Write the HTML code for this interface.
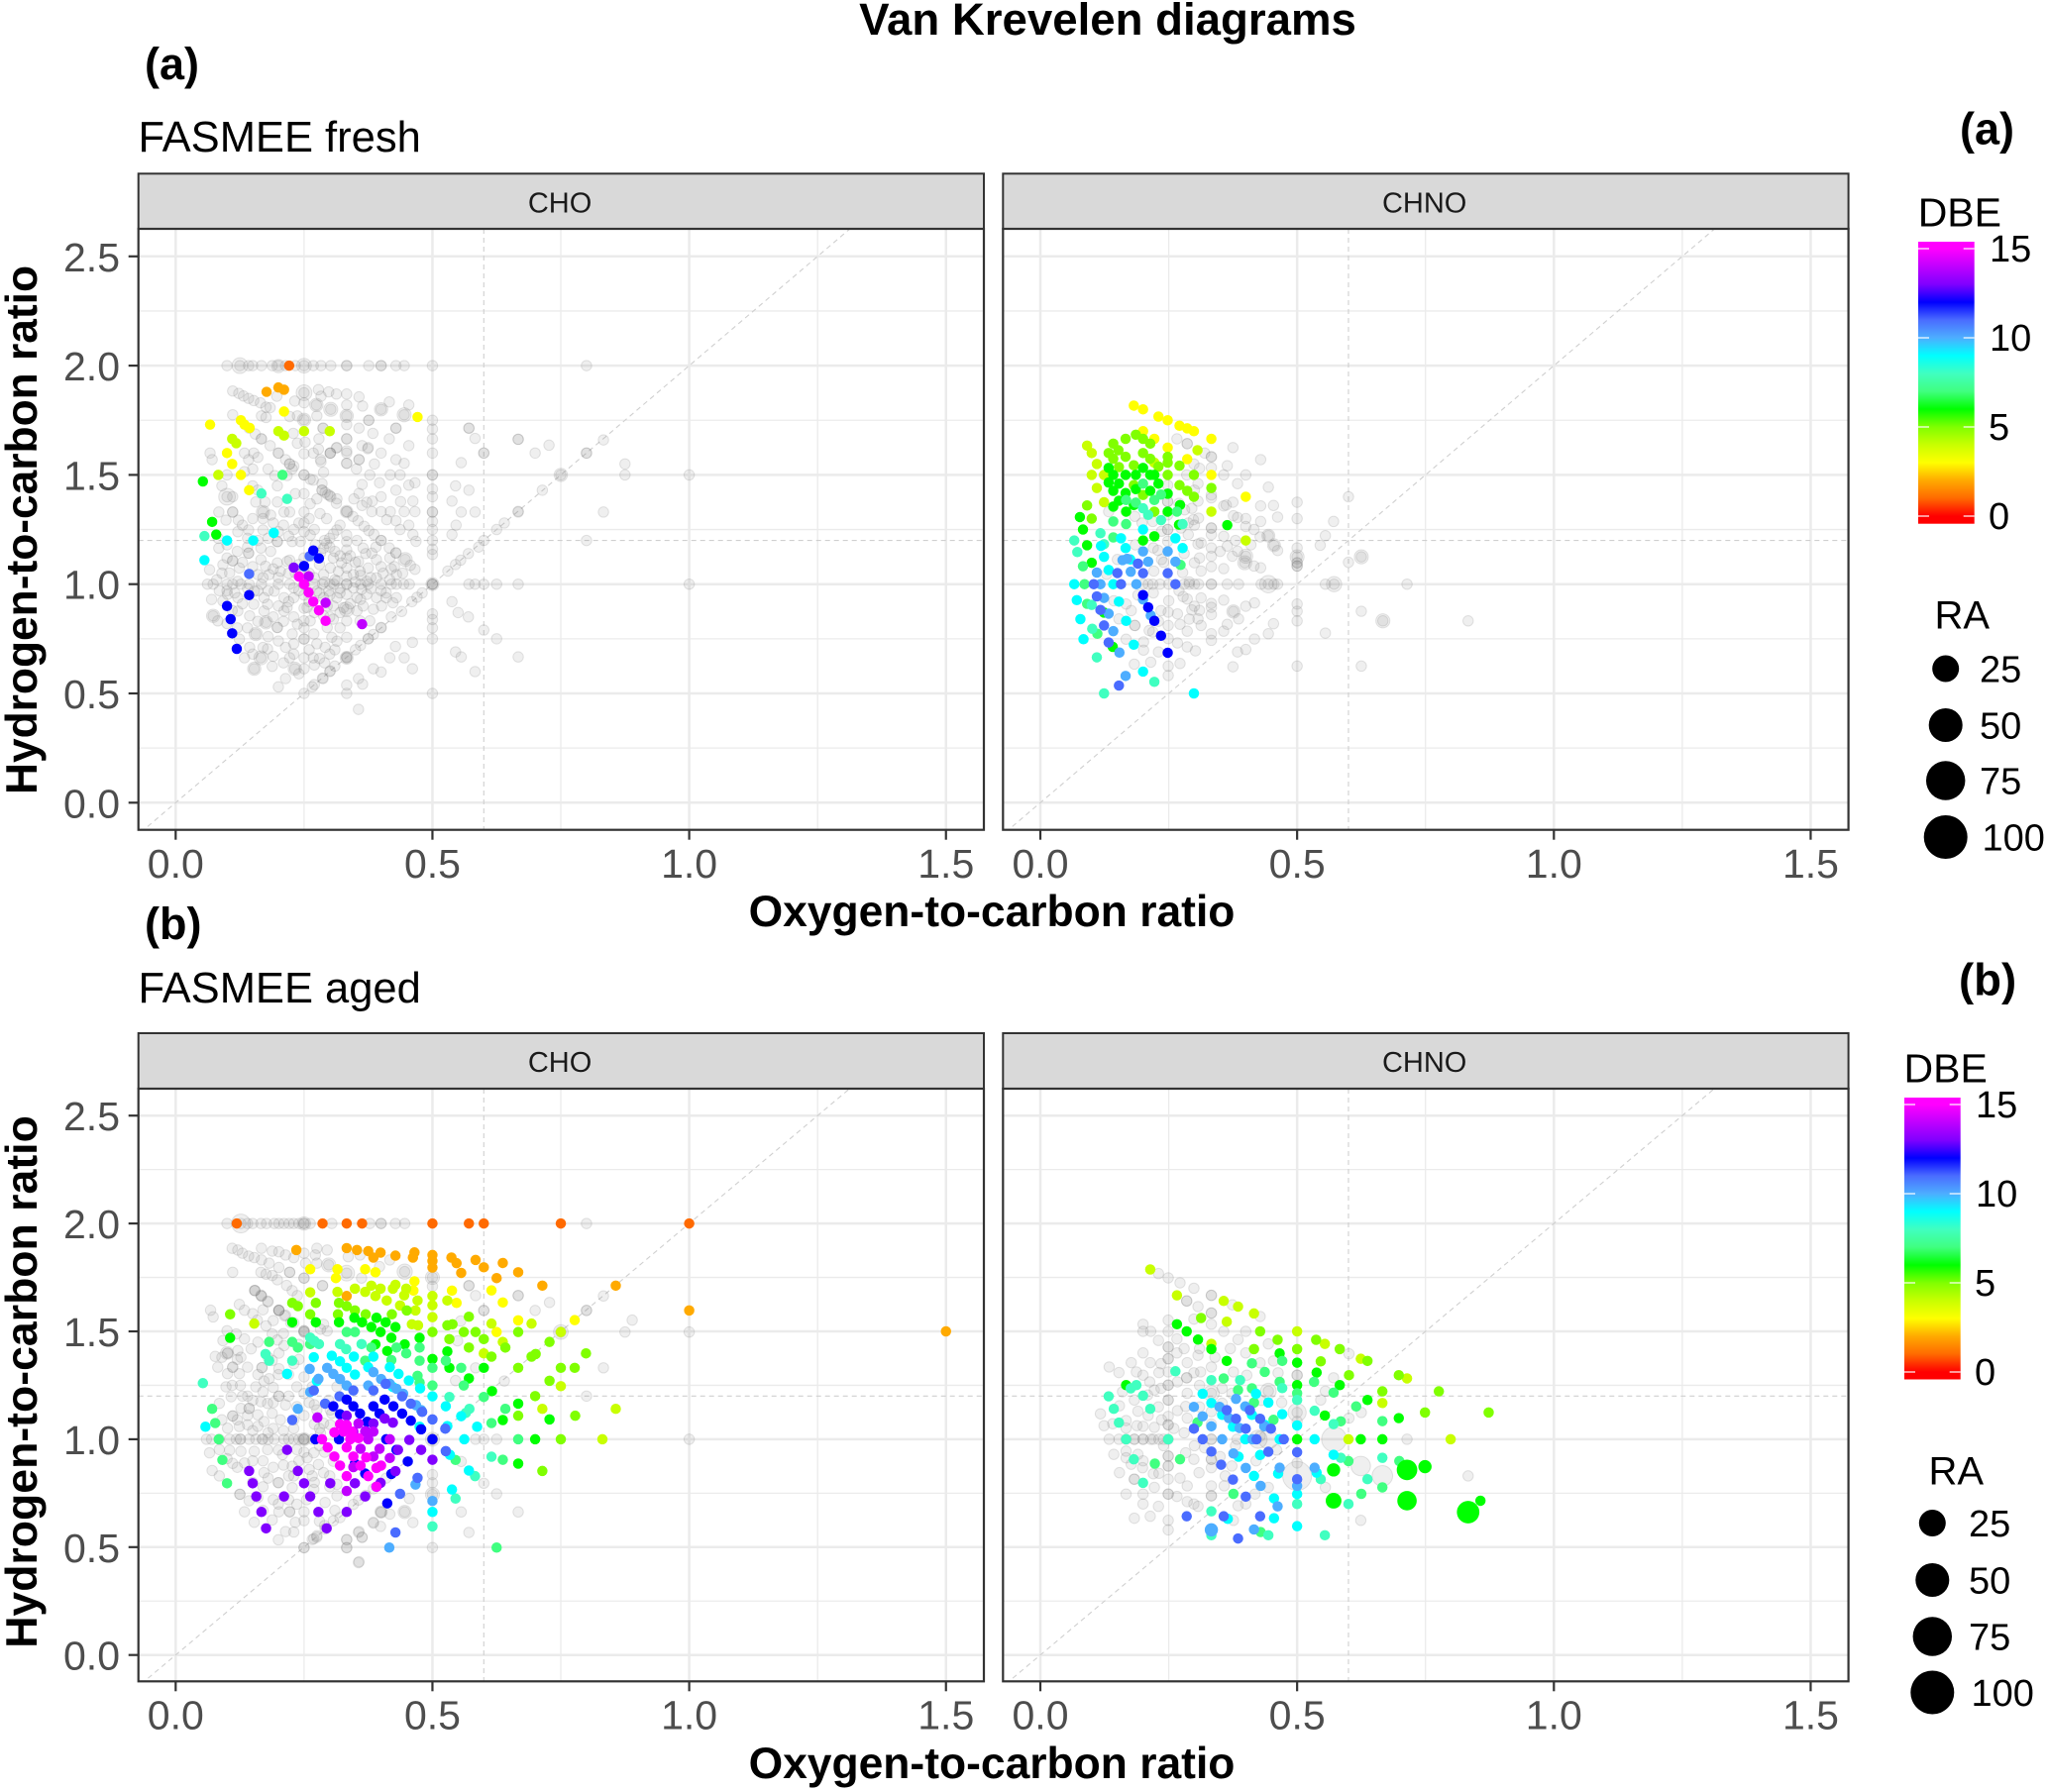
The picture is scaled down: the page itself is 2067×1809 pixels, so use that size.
<!DOCTYPE html>
<html lang="en">
<head>
<meta charset="utf-8">
<title>Van Krevelen diagrams</title>
<style>
html,body{margin:0;padding:0;background:#fff;}
svg{display:block;font-family:"Liberation Sans",Arial,sans-serif;}
</style>
</head>
<body>
<svg id="chart" xmlns="http://www.w3.org/2000/svg" width="2067" height="1809" viewBox="0 0 2067 1809">
  <rect width="2067" height="1809" fill="#fff"/>
  <text x="1118" y="35" font-size="45.6" font-weight="bold" text-anchor="middle" fill="#000">Van Krevelen diagrams</text>
  <text x="146" y="80" font-size="45" font-weight="bold" fill="#000">(a)</text>
  <text x="139.5" y="153" font-size="43.5" fill="#000">FASMEE fresh</text>
  <text x="146" y="948" font-size="45" font-weight="bold" fill="#000">(b)</text>
  <text x="139.5" y="1012" font-size="43.5" fill="#000">FASMEE aged</text>
  <text x="1978" y="145.5" font-size="45" font-weight="bold" fill="#000">(a)</text>
  <text x="1977" y="1004.5" font-size="45.5" font-weight="bold" fill="#000">(b)</text>
  <text transform="rotate(-90 37 535)" x="37" y="535" font-size="44.3" font-weight="bold" text-anchor="middle" fill="#000">Hydrogen-to-carbon ratio</text>
  <text transform="rotate(-90 37 1395)" x="37" y="1395" font-size="44.6" font-weight="bold" text-anchor="middle" fill="#000">Hydrogen-to-carbon ratio</text>
  <text x="1001" y="935" font-size="44.4" font-weight="bold" text-anchor="middle" fill="#000">Oxygen-to-carbon ratio</text>
  <text x="1001" y="1795" font-size="44.4" font-weight="bold" text-anchor="middle" fill="#000">Oxygen-to-carbon ratio</text>
  <g id="panels"></g>
  <g id="legends"></g>
</svg>
<script>
// ---------- axis values ----------
const xMajorTicks = [0, 0.5, 1, 1.5];
const xMinorTicks = [0.25, 0.75, 1.25];
const yMajorTicks = [0, 0.5, 1, 1.5, 2, 2.5];
const yMinorTicks = [0.25, 0.75, 1.25, 1.75, 2.25];
const xTickLabels = ["0.0", "0.5", "1.0", "1.5"];
const yTickLabels = ["0.0", "0.5", "1.0", "1.5", "2.0", "2.5"];
const referenceX = [0.6];
const referenceY = [1.2];
const referenceSlope = [2];

// ---------- colour scale ----------
const dbeLevels = [0,1,2,3,4,5,6,7,8,9,10,11,12,13,14,15];
const dbeColors = ["#ff0000","#ff6a00","#ffaa00","#ffff00","#c8ff00","#80ff00","#00ff00","#40ff80","#40ffc0","#00ffff","#4dadff","#4a6cff","#0000ff","#8000ff","#c000ff","#ff00ff"];
const dbeLegendTicks = [0,5,10,15];
const raLegendValues = [25,50,75,100];

// ---------- FASMEE fresh, CHO : flat [oc,hc,...] ----------
const freshChoGray = [
.1,2,.125,2,.142,2,.15,2,.167,2,.188,2,.2,2,.214,2,.233,2,.25,2,.268,2,.283,2,.302,2,.333,2,.376,2,.4,2,.429,2,.445,2,.5,2,.8,2,
.111,1.884,.123,1.873,.132,1.861,.142,1.85,.152,1.84,.165,1.83,.176,1.81,.197,1.86,.232,1.838,.25,1.83,.25,1.876,.278,1.89,.298,1.88,.313,1.87,.283,1.86,.274,1.82,.302,1.8,.333,1.87,.357,1.857,.333,1.82,.364,1.815,.416,1.834,.454,1.82,.4,1.8,.445,1.775,.333,1.77,.376,1.75,.357,1.714,.333,1.73,.384,1.69,.429,1.714,.416,1.665,.333,1.665,.363,1.634,.374,1.62,.313,1.624,.279,1.665,.287,1.714,.301,1.6,.283,1.56,.333,1.6,.333,1.553,.357,1.57,.4,1.6,.454,1.634,.429,1.57,.445,1.553,.387,1.55,
.378,1.5,.418,1.5,.437,1.5,.466,1.464,.454,1.453,.397,1.464,.363,1.456,.357,1.415,.4,1.4,.429,1.43,.347,1.39,.383,1.38,.372,1.375,.363,1.36,.382,1.332,.4,1.332,.418,1.332,.445,1.332,.466,1.332,.438,1.378,.462,1.38,.411,1.295,.429,1.29,.437,1.25,.454,1.27,.462,1.227,.468,1.196,
.25,1.752,.275,1.77,.237,1.77,.222,1.767,.184,1.808,.167,1.77,.176,1.763,.111,1.775,.237,1.645,.252,1.65,.229,1.69,.25,1.597,.268,1.6,
.143,1.714,.155,1.687,.167,1.665,.184,1.634,.2,1.6,.222,1.55,.25,1.5,.268,1.476,.285,1.43,.302,1.4,.313,1.37,.333,1.332,.355,1.29,.367,1.265,.376,1.245,.4,1.2,.416,1.166,.429,1.143,.447,1.113,.466,1.068,.214,1.57,.23,1.54,.296,1.41,.345,1.31,.386,1.228,.457,1.086,
.48,.96,.47,.94,.46,.92,.44,.875,.42,.85,.4,.8,.385,.77,.375,.75,.36,.72,.35,.7,.333,.667,.31,.625,.3,.6,.286,.57,.27,.54,.25,.5,
.53,1.06,.545,1.09,.555,1.11,.57,1.14,.59,1.17,.6,1.2,.625,1.25,.64,1.28,.667,1.333,.714,1.43,.75,1.5,1,1.5,.667,1.663,.6,1.6,.833,1.66,.8,1.6,.7,1.6,.727,1.636,.571,1.714,.583,1.667,.556,1.556,.545,1.45,.571,1.43,.538,1.38,.556,1.33,.583,1.33,.667,1.33,.833,1.33,.875,1.55,.875,1.5,.546,1.27,.538,1.227,.8,1.2,
.5,1.75,.5,1.71,.5,1.665,.5,1.6,.5,1.5,.5,1.435,.5,1.4,.5,1.33,.5,1.287,.5,1.25,.5,1.2,.5,1.16,.5,1.136,.5,1,.5,.864,.5,.838,.5,.8,.5,.75,.5,.5,
.062,1,.073,1,.1,1,.111,1,.127,1,.143,1,.167,1,.2,1,.222,1,.25,1,.27,1,.286,1,.3,1,.308,1,.333,1,.36,1,.375,1,.4,1,.42,1,.43,1,.444,1,.455,1,.571,1,.583,1,.6,1,.625,1,.667,1,1,1,
.538,.92,.55,.87,.57,.85,.6,.79,.625,.75,.556,.667,.667,.667,.583,.6,.545,.69,
.067,1.6,.071,1.57,.1,1.4,.111,1.4,.09,1.45,.1,1.5,.134,1.6,.142,1.57,.152,1.6,.16,1.58,.18,1.527,.15,1.527,.134,1.515,.15,1.45,.156,1.376,.17,1.33,.111,1.33,.084,1.33,.098,1.293,.122,1.293,.142,1.248,.17,1.248,.185,1.316,.198,1.376,.211,1.33,.222,1.33,.25,1.33,.25,1.414,.233,1.414,.262,1.368,.281,1.323,.294,1.3,
.32,1.27,.314,1.248,.307,1.23,.3,1.21,.294,1.187,.288,1.165,.282,1.142,
.333,1.225,.333,1.195,.333,1.157,.333,1.12,.333,1.074,.333,1.036,.333,.953,.333,.885,.333,.832,.333,.757,.333,.663,.333,.538,.333,.5,
.353,1.2,.365,1.165,.382,1.142,.391,1.112,.417,1.12,.426,1.08,.442,1.05,.43,1.044,.404,1.05,.375,1.074,.356,1.104,.372,1.013,.391,1.029,.417,1.02,
.353,.938,.372,.953,.391,.938,.41,.938,.43,.938,.423,.915,.401,.9,.385,.885,.365,.9,.353,.878,.378,.832,.4,.802,.359,.832,
.07,.93,.082,.832,.073,.855,.092,.923,.124,.749,.144,.711,.166,.663,.153,.613,.134,.663,.156,.772,.176,.825,.144,.855,.121,.877,.152,.908,.172,.938,.172,.877,.198,.802,.25,.749,.227,.772,.237,.817,.211,.877,.23,.938,.217,.893,.25,.832,.269,.772,.275,.727,.291,.711,.304,.757,.314,.739,.295,.802,.288,.855,.307,.84,
.214,.711,.23,.727,.179,.704,.188,.624,.214,.568,.232,.613,.24,.59,.222,.663,.25,.663,.268,.663,.25,.613,.2,.53,.266,.53,.287,.568,.301,.603,.356,.568,.364,.542,.385,.613,.4,.598,.417,.663,.428,.715,.445,.663,.461,.734,.461,.613,.356,.427,
.174,1.376,.16,1.43,.193,1.497,.217,1.497,.227,1.527,.198,1.45,.275,1.39,.291,1.42,.285,1.46,.3,1.406,.314,1.39,.262,1.48,.288,1.512,.278,1.618,.301,1.6,.282,1.57,.314,1.625,.352,1.527,.333,1.61,.357,1.57,.375,1.625,
.084,1.165,.111,1.107,.092,1.089,.066,1.066,.142,1.142,.166,1.165,.166,1.112,.198,1.195,.124,1.074,.105,1.051,.121,1.013,.185,1.15,.175,1.082,.198,1.097,.217,1.104,.227,1.195,.25,1.24,.243,1.195,.262,1.225,.182,1.044,.204,1.059,.233,1.051,.16,1.044,.083,1.21,.121,1.24,.14,1.21,.1,1.18,
.101,.953,.121,.938,.153,.968,.192,.968,.211,.938,.23,.983,.179,.908,.256,.893,.262,.832,.298,.968,.314,.938,.307,.9,.327,.893,.288,.938,.275,.968,.314,1.014,.301,1.074,.288,1.044,.307,1.12,.323,1.097,.317,1.059,.346,1.044,.359,1.059,.346,.983,.362,.976,.295,.9,.32,.96,.25,1.12,.25,.95,.25,1.06,.25,.89,.222,1.11,.272,1.18,.267,1.13,.28,1.09,.35,1.01,.29,1.01,
.29,1.2,.3,1.17,.31,1.15,.32,1.13,.25,1.28,.23,1.25,.21,1.27,.19,1.28,.17,1.3,.15,1.3,.13,1.27,.27,1.25,.26,1.3,.24,1.28,.22,1.22,.2,1.24,.18,1.21,.16,1.2,.14,1.17,.12,1.15,.1,1.12,.09,1.05,.08,1.02,.085,.97,.1,.97,.115,.96,.13,.91,.11,.88,.1,.82,.12,.8,.14,.8,.16,.83,.19,.85,.2,.9,.22,.92,.24,.97,.26,.92,.27,.87,.25,.8,.23,.85,.21,.83,.2,.74,.18,.76,.17,.71,.15,.68,.19,.67,.21,.64,.23,.68,.26,.7,.27,.63,.28,.66,.3,.68,.31,.7,.29,.64,.32,.8,.3,.85,.32,.87,.34,.91,.36,.93,.38,.98,.4,.97,.41,.96,.36,1.04,.38,1.03,.4,1.08,.42,1.07,.35,1.1,.37,1.14,.39,1.17,.34,1.13,.31,1.02,.32,.98,.3,.95,.28,.96,.27,1.03,.26,1.05,.24,1.09,.22,1.05,.2,1.03,.19,1.07,.17,1.03,.15,1.08,.13,1.1,.14,.98,.16,.97,.18,.97
];
const freshChoGrayOverlap = [.333,1.332,.25,1.5,.2,1.6,.167,1.665,.222,1.55,.285,1.43,.429,1.143,.4,1.2,.376,1.75,.429,1.714,.333,1.665,.333,1.553,.287,1.714,.301,1.6,.5,1.5,.5,1,.5,1,.333,.663,.375,.75,.25,.749,.198,.802,.111,1.33,.111,1.107,.142,1.142,.198,1.195,.25,1,.333,1,.4,2,.333,2,.6,1.6,.667,1.663,.571,1.714,.8,1.6,.5,1.33];
const freshChoGrayLarge = [.125,2,3,.25,2,2,.2,1.998,1,.25,1.876,3,.274,1.82,1,.302,1.8,1.5,.4,1.8,1,.445,1.775,1.5,.333,1.77,1,.25,1.752,1,.1,1.4,4,.17,1.33,1,.447,1.113,1.5,.333,1.332,.6,.75,1.5,1,.5,1,.8,.333,.885,2,.166,.663,1.5,.153,.613,1,.232,.613,1,.156,.772,1,.176,.825,1,.073,.855,1,.333,.663,.8];
const freshChoColored = [
.221,2,1,
.177,1.88,2,.2,1.9,2,.211,1.89,2,
.211,1.79,3,.471,1.765,3,.067,1.73,3,.127,1.75,3,.134,1.73,3,.144,1.715,3,.1,1.6,3,.11,1.55,3,.127,1.5,3,.143,1.43,3,
.2,1.7,4,.211,1.68,4,.25,1.7,4,.3,1.7,4,.11,1.665,4,.118,1.645,4,.083,1.5,4,
.053,1.47,6,.071,1.285,6,.079,1.227,6,
.208,1.5,7,
.167,1.415,8,.217,1.39,8,.056,1.22,8,
.1,1.2,9,.151,1.2,9,.191,1.235,9,.056,1.11,9,
.143,1.047,11,.261,1.128,11,
.268,1.154,12,.279,1.118,12,.25,1.083,12,.143,.95,12,.1,.9,12,.107,.84,12,.11,.775,12,.119,.704,12,
.23,1.076,13,
.259,1.036,14,.292,.915,14,.363,.817,14,
.24,1.035,15,.25,1,15,.259,.962,15,.268,.92,15,.279,.88,15,.292,.832,15
];

// ---------- FASMEE fresh, CHNO ----------
const freshChnoGray = [
.266,1.665,.286,1.643,.299,1.55,.333,1.583,.333,1.533,.375,1.625,.429,1.57,.364,1.542,.357,1.5,.4,1.5,.285,1.5,.307,1.46,.384,1.46,.444,1.444,.333,1.408,.333,1.395,.375,1.375,.357,1.358,.362,1.362,.429,1.358,.454,1.36,.5,1.375,.6,1.4,.462,1.307,.5,1.3,.571,1.287,.376,1.313,.384,1.305,.4,1.3,.429,1.287,.4,1.264,.416,1.25,.428,1.216,.444,1.222,.455,1.178,.462,1.154,.555,1.222,.545,1.178,.5,1.166,.5,1.125,.5,1.098,.5,1.083,.6,1.1,.625,1.125,
.2,1,.21,1,.219,1,.233,1,.25,1,.28,1,.29,1,.3,1,.308,1,.333,1,.364,1,.386,1,.43,1,.444,1,.455,1,.462,1,.555,1,.572,1,.714,1,
.25,.924,.278,.943,.286,.932,.313,.937,.3,.899,.295,.882,.333,.912,.333,.894,.333,.861,.357,.927,.4,.899,.417,.914,.376,.875,.386,.841,.364,.816,.357,.785,.333,.773,.333,.743,.313,.811,.307,.841,.286,.785,.272,.816,.267,.864,.249,.872,.249,.811,.235,.879,.249,.751,.267,.731,.286,.713,.302,.695,.23,.69,.272,.637,.249,.625,.249,.582,.215,.643,.183,.634,.384,.69,.4,.701,.375,.622,.417,.749,.444,.773,.454,.819,.5,.909,.5,.876,.5,.832,.5,.625,.555,.776,.625,.876,.667,.832,.833,.832,.625,.625,
.185,1.18,.22,1.166,.248,1.196,.248,1.25,.248,1.317,.248,1.378,.248,1.453,.229,1.155,.236,1.113,.221,1.06,.288,1.227,.307,1.184,.313,1.189,.3,1.098,.313,1.06,.357,1.071,.333,1.128,.333,1.08,.333,1.166,.333,1.227,.333,1.257,.357,1.219,.364,1.174,.374,1.128,.384,1.151,.4,1.128,.398,1.098,.416,1.083,.429,1.075,.308,1.302,.298,1.295,.288,1.28,.274,1.257,.236,1.242,.219,1.287,.184,1.31,.198,1.28,.295,1.347,.281,1.34,.307,1.38,.133,1.332,.129,1.045,.15,1.113,.277,1.053,.167,.909,.177,.879,.184,.811,.143,.924,.153,.841,.201,.736,.201,.698,.167,.748,.219,.781,.212,.788,
.24,1.1,.28,1.14,.31,1.12,.29,1.01,.27,.97,.22,.96,.19,.95,.23,.83,.29,.84,.31,.88,.35,1.15,.38,1.2,.41,1.18,.3,1.27,.27,1.37,.3,1.43,.32,1.6,.31,1.53
];
const freshChnoGrayOverlap = [.286,1.643,.333,1.583,.333,1,.248,1.25,.248,1.378,.333,1.257,.184,.811,.5,1.098,.5,1.083];
const freshChnoGrayLarge = [.444,1,5,.572,1,2.5,.4,1.128,1.5,.398,1.098,1.5,.5,1.125,1.5,.625,1.125,1.5,.667,.832,1.5,.376,.875,1,.444,1.222,.8,.455,1.178,.8];
const freshChnoColored = [
.182,1.817,3,.2,1.8,3,.23,1.767,3,.248,1.75,3,.271,1.725,3,.286,1.713,3,.299,1.7,3,.333,1.665,3,.2,1.7,3,.222,1.665,3,.248,1.625,3,.286,1.572,3,.333,1.5,3,.4,1.4,3,
.091,1.634,4,.1,1.6,4,.11,1.55,4,.1,1.5,4,.124,1.5,4,.11,1.44,4,.124,1.375,4,.333,1.332,4,.4,1.2,4,.306,1.613,4,.222,1.556,4,
.091,1.36,5,.1,1.3,5,.166,1.665,5,.186,1.684,5,.2,1.665,5,.214,1.643,5,.142,1.643,5,.152,1.613,5,.133,1.6,5,.142,1.574,5,.166,1.583,5,.2,1.6,5,.214,1.574,5,.182,1.544,5,.153,1.536,5,.23,1.538,5,.248,1.583,5,.248,1.556,5,.271,1.542,5,.299,1.5,5,.248,1.5,5,.271,1.453,5,.286,1.427,5,.299,1.4,5,.333,1.44,5,.222,1.332,5,.182,1.453,5,.2,1.408,5,
.133,1.532,6,.2,1.532,6,.142,1.5,6,.166,1.5,6,.186,1.5,6,.214,1.5,6,.222,1.5,6,.133,1.465,6,.153,1.46,6,.142,1.427,6,.23,1.46,6,.166,1.417,6,.186,1.435,6,.214,1.427,6,.248,1.414,6,.153,1.382,6,.142,1.355,6,.182,1.362,6,.167,1.332,6,.248,1.332,6,.272,1.362,6,.077,1.307,6,.083,1.25,6,.222,1.219,6,.2,1.2,6,.27,1.272,6,.364,1.27,6,.091,1.178,6,.1,1.098,6,.141,.713,6,.124,.87,6,
.142,1.287,7,.083,1.082,7,.273,1.088,7,.2,1.46,7,.235,1.41,7,.222,1.385,7,.167,1.385,7,.186,1.373,7,.142,1.214,7,.266,1.332,7,.167,1.275,7,.111,.773,7,.086,1,7,.091,.91,7,
.2,1.347,8,.21,1.317,8,.235,1.293,8,.277,1.275,8,.117,1.233,8,.066,1.2,8,.072,1.147,8,.124,1.183,8,.101,.796,8,.124,.5,8,.222,.553,8,.11,.665,8,.1,.905,8,
.2,1.25,9,.157,1.21,9,.166,1.165,9,.118,1.175,9,.124,1.125,9,.263,1.21,9,.277,1.165,9,.133,1.065,9,.066,1,9,.142,1,9,.071,.927,9,.153,.92,9,.078,.84,9,.167,.832,9,.084,.748,9,.182,.723,9,.2,.6,9,.299,.5,9,.175,1.113,9,
.2,1.15,10,.248,1.15,10,.16,1.11,10,.169,1.116,10,.263,1.103,10,.21,1.103,10,.11,1.053,10,.176,1.057,10,.117,1,10,.187,1,10,.124,.937,10,.2,.93,10,.133,.865,10,.142,.785,10,.215,.857,10,.154,.687,10,.166,.58,10,
.19,1.094,11,.15,1.051,11,.2,1.05,11,.248,1.05,11,.104,1,11,.157,1,11,.263,1,11,.11,.944,11,.117,.882,11,.124,.811,11,.133,.733,11,.153,.536,11,
.2,.95,12,.21,.894,12,.222,.832,12,.235,.764,12,.248,.686,12
];

// ---------- FASMEE aged, CHO ----------
const agedChoGray = [
.1,2,.127,2,.14,2,.15,2,.166,2,.177,2,.192,2,.201,2,.211,2,.221,2,.23,2,.24,2,.25,2,.262,2,.304,2,.378,2,.4,2,.428,2,.446,2,.8,2,
.11,1.885,.121,1.877,.13,1.862,.142,1.849,.153,1.842,.167,1.885,.188,1.872,.201,1.869,.214,1.854,.167,1.831,.182,1.816,.201,1.796,.23,1.842,.25,1.862,.275,1.885,.295,1.877,.272,1.854,.253,1.816,.275,1.816,.298,1.808,.333,1.77,.111,1.774,.166,1.774,.176,1.765,.188,1.759,.198,1.739,.222,1.774,.25,1.747,.286,1.712,.216,1.713,.227,1.689,.237,1.666,.154,1.689,.167,1.664,.18,1.637,.201,1.597,.214,1.575,.23,1.54,.25,1.497,.362,1.747,.336,1.846,.359,1.854,.397,1.8,.417,1.831,.446,1.777,.5,1.75,.5,1.709,.571,1.712,.584,1.666,.667,1.666,.728,1.634,.6,1.597,.7,1.597,.555,1.548,.75,1.497,.875,1.497,.889,1.552,.8,1.597,.833,1.664,1,1.497,.64,1.27,.833,1.331,.8,1.2,1,1,.584,1.331,.545,1.272,.625,1,.6,1,.584,1,.556,.897,.6,.796,.625,.747,.667,.663,.571,.568,.556,.663,.5,.744,.5,.836,.5,.798,.5,.498,.446,.663,.462,.614,.455,.725,.4,.663,.385,.611,.399,.596,.356,.568,.363,.545,.333,.535,.333,.498,.356,.428,.25,.498,
.266,.535,.275,.553,.291,.584,.307,.622,.32,.637,.346,.698,.356,.718,.37,.74,.385,.77,.41,.82,
.06,1,.07,1,.105,1,.126,1,.143,1,.169,1,.192,1,.211,1,.23,1,.25,1,.266,1,.085,1,.118,1,.156,1,.18,1,.22,1,.24,1,
.154,1.69,.166,1.668,.179,1.64,.201,1.598,.212,1.572,.224,1.541,.25,1.503,.124,1.625,.134,1.598,.15,1.582,.159,1.552,.176,1.526,.188,1.488,.198,1.46,.211,1.434,.068,1.598,.073,1.567,.1,1.503,.118,1.488,.134,1.465,.101,1.399,.121,1.411,.092,1.457,.077,1.384,.082,1.334,.111,1.334,.127,1.38,.14,1.334,.168,1.332,.201,1.399,.188,1.365,.147,1.419,.201,1.327,.124,1.304,.101,1.304,.126,1.25,.098,1.243,.085,1.166,.108,1.197,.143,1.143,.111,1.108,.127,1.143,.156,1.243,.172,1.27,.182,1.281,.166,1.174,.179,1.166,.201,1.2,.16,1.113,.188,1.12,.214,1.159,.236,1.243,.25,1.289,.266,1.243,.25,1.212,.236,1.151,.204,1.09,.101,1.051,.124,1.059,.14,1.067,.172,1.082,.298,1.181,.304,1.12,.288,1.074,
.066,.937,.085,.952,.105,.949,.111,.888,.071,.855,.085,.83,.127,.944,.153,.944,.179,.952,.208,.929,.134,.89,.172,.845,.2,.799,.125,.745,.143,.715,.134,.664,.153,.615,.188,.626,.201,.664,.222,.664,.236,.699,.214,.572,.2,.534,.233,.615,.25,.664,.25,.623,.269,.539,.275,.546,.25,.497,.333,.534,.333,.497,.357,.572,.363,.546,.385,.615,.4,.661,.417,.653,.357,.432,.227,.776,.256,.914,.269,.937,.278,.883,.288,.845,.266,.83,.269,.768,.227,.875,.236,.952,.307,.898,.314,.791,.314,.738,.291,.707,
.301,1.136,.314,1.243,.275,1.136,.301,1.067,.282,1.028,.295,1.502,.288,1.533,.282,1.51,.549,1.456,.14,1.2,.16,1.3,.12,1.37,.22,1.3,.24,1.37,.19,1.24,.15,1.04,.18,1.03,.23,1.09,.26,1.17,.2,.95,.17,.78,.19,.72,.22,.83,.24,.9,.28,.97,.27,1.07,.29,.94,.3,.83,.27,.8,.3,.78,.255,.72,
.09,1.38,.11,1.25,.13,1.2,.15,1.18,.17,1.22,.19,1.17,.12,1.09,.14,1.11,.16,1.06,.19,1.05,.21,1.04,.23,1.05,.09,1.09,.1,.91,.12,.87,.15,.9,.17,.9,.19,.87,.21,.88,.23,.83,.15,.8,.18,.82,.2,.7,.17,.67,.16,.73,.22,.72,.23,.57,.28,.62,.29,.6,.31,.67,.26,.86,.25,.94,.28,1.05,.27,1.16,.25,1.11,.22,1.2,.2,1.3,.18,1.38,.16,1.45,.21,1.49,.19,1.55,.17,1.6,.24,1.44,.23,1.35
];
const agedChoGrayOverlap = [.201,1.598,.25,1.503,.222,1.774,.25,1.747,.286,1.712,.154,1.689,.167,1.664,.201,1.597,.25,1.497,.25,1,.25,1,.201,1.2,.101,1.399,.111,1.334,.168,1.332,.143,1.143,.111,1.108,.126,1,.169,1,.2,.799,.125,.745,.222,.664,.4,2,.25,2,.667,1.666,.6,1.597,.8,1.597,.571,1.712,.5,1,.5,1];
const agedChoGrayLarge = [.127,2,7,.25,2,1,.298,1.808,1.5,.333,1.77,3,.446,1.777,2.5,.5,1.75,1.5,.75,1.497,2,.25,1,.8,.5,1,1.5,.5,.744,1.5,.446,.663,1,.4,.663,.5,.1,1.4,.8];
const agedChoColored = [
.119,2,1,.286,2,1,.333,2,1,.363,2,1,.5,2,1,.571,2,1,.6,2,1,.75,2,1,1,2,1,
1,1.597,2,1.5,1.5,2,.235,1.877,2,.333,1.886,2,.353,1.877,2,.375,1.872,2,.385,1.842,2,.399,1.865,2,.428,1.851,2,.465,1.866,2,.462,1.842,2,.5,1.854,2,.5,1.826,2,.5,1.796,2,.537,1.842,2,.547,1.816,2,.556,1.771,2,.584,1.831,2,.6,1.797,2,.637,1.817,2,.625,1.747,2,.667,1.774,2,.714,1.712,2,.857,1.712,2,.333,1.664,2,
.262,1.788,3,.315,1.788,3,.369,1.788,3,.389,1.774,3,.312,1.747,3,.465,1.732,3,.463,1.689,3,.538,1.689,3,.547,1.632,3,.615,1.69,3,.637,1.634,3,.667,1.551,3,.625,1.497,3,.777,1.552,3,
.262,1.681,4,.315,1.683,4,.349,1.698,4,.369,1.683,4,.381,1.712,4,.399,1.698,4,.389,1.664,4,.411,1.643,4,.423,1.698,4,.428,1.716,4,.449,1.698,4,.445,1.667,4,.437,1.62,4,.467,1.597,4,.471,1.643,4,.5,1.664,4,.5,1.621,4,.5,1.566,4,.46,1.533,4,.472,1.528,4,.153,1.536,4,.529,1.643,4,.693,1.536,4,.75,1.497,4,.615,1.536,4,.637,1.451,4,.6,1.398,4,.857,1.141,4,.831,1,4,.75,1.246,4,.714,1.141,4,
.106,1.579,5,.227,1.632,5,.238,1.617,5,.273,1.632,5,.262,1.579,5,.318,1.632,5,.333,1.617,5,.316,1.579,5,.349,1.597,5,.37,1.579,5,.421,1.579,5,.45,1.597,5,.5,1.497,5,.529,1.528,5,.539,1.533,5,.561,1.497,5,.571,1.568,5,.584,1.497,5,.571,1.425,5,.533,1.464,5,.6,1.464,5,.615,1.383,5,.642,1.425,5,.667,1.497,5,.728,1.451,5,.701,1.395,5,.693,1.383,5,.667,1.331,5,.75,1.331,5,.777,1.331,5,.799,1.398,5,.728,1.271,5,.7,1.2,5,.778,1.109,5,.667,1.109,5,.75,1,5,.714,.853,5,
.227,1.542,6,.273,1.542,6,.106,1.47,6,.318,1.542,6,.348,1.563,6,.363,1.542,6,.391,1.563,6,.409,1.542,6,.381,1.52,6,.428,1.52,6,.399,1.497,6,.475,1.47,6,.389,1.44,6,.412,1.409,6,.446,1.44,6,.5,1.372,6,.533,1.331,6,.6,1.331,6,.571,1.282,6,.529,1.407,6,.667,1.165,6,.616,1.223,6,.637,1.089,6,.728,1.092,6,.7,1,6,.667,.887,6,.42,1.47,6,
.182,1.451,7,.227,1.451,7,.238,1.425,7,.333,1.497,7,.349,1.497,7,.381,1.425,7,.43,1.425,7,.475,1.425,7,.449,1.398,7,.5,1.331,7,.526,1.364,7,.556,1.331,7,.561,1.249,7,.475,1.364,7,.42,1.367,7,.369,1.364,7,.471,1.294,7,.475,1.263,7,.5,1.249,7,.084,1,7,.071,1.141,7,.077,1.075,7,.091,.904,7,.1,.796,7,.6,1.196,7,.642,1.141,7,.615,1.075,7,.637,.905,7,.667,1,7,.545,.904,7,.625,.498,7,.262,1.441,7,
.053,1.26,8,.175,1.395,8,.182,1.364,8,.227,1.364,8,.262,1.471,8,.27,1.456,8,.279,1.441,8,.32,1.441,8,.332,1.418,8,.362,1.441,8,.533,1.196,8,.572,1.141,8,.565,1.122,8,.615,.919,8,.583,.829,8,.545,.725,8,.5,.596,8,
.058,1.058,9,.217,1.303,9,.269,1.38,9,.304,1.387,9,.32,1.361,9,.333,1.331,9,.347,1.383,9,.349,1.3,9,.385,1.383,9,.375,1.334,9,.417,1.334,9,.434,1.303,9,.454,1.272,9,.476,1.236,9,.5,1.199,9,.526,1.153,9,.556,1.107,9,.587,1.058,9,.562,1,9,.534,.928,9,.571,.855,9,.538,.767,9,.5,.663,9,.275,1.27,9,.423,1.242,9,.475,1.058,9,.529,1.061,9,
.238,1.141,10,.261,1.326,10,.278,1.28,10,.295,1.331,10,.307,1.303,10,.32,1.279,10,.333,1.249,10,.262,1.219,10,.375,1.249,10,.385,1.311,10,.4,1.279,10,.417,1.257,10,.43,1.234,10,.443,1.211,10,.468,1.158,10,.467,.79,10,.5,.714,10,.416,.498,10,.478,1.135,10,
.227,1.089,11,.269,1.226,11,.346,1.226,11,.385,1.226,11,.409,1.257,11,.441,1.199,11,.458,1.165,11,.48,1.127,11,.5,1.092,11,.525,1.049,11,.319,1.199,11,.291,1.165,11,.526,.945,11,.437,.747,11,.428,.568,11,.471,.821,11,
.333,1.184,12,.307,1.153,12,.346,1.153,12,.385,1.153,12,.407,1.184,12,.424,1.153,12,.441,1.119,12,.458,1.086,12,.478,1.046,12,.5,1,12,.272,1,12,.318,1,12,.32,1.116,12,.359,1.119,12,.373,1.081,12,.397,1.119,12,.41,1,12,.43,.951,12,.452,.897,12,.42,.839,12,.369,.841,12,.412,.703,12,.349,.887,12,.391,.78,12,
.217,.951,13,.143,.853,13,.238,.853,13,.15,.796,13,.25,.796,13,.301,.796,13,.157,.735,13,.211,.735,13,.262,.735,13,.167,.663,13,.278,.663,13,.333,.663,13,.176,.587,13,.294,.587,13,.369,.735,13,.349,.796,13,.399,.798,13,.428,.852,13,.455,.997,13,.433,.951,13,.478,.951,13,.5,.905,13,.37,1.038,13,.385,1.073,13,.423,1.077,13,.407,1.096,13,.333,1.109,13,
.276,1.101,14,.385,1.035,14,.417,1,14,.397,.956,14,.36,.956,14,.346,1.035,14,.356,1.073,14,.369,1.035,14,.417,.913,14,.375,1,14,.333,.76,14,.346,.871,14,.385,.92,14,
.32,1.07,15,.333,1.066,15,.309,1.032,15,.327,1.035,15,.343,1.035,15,.356,1.005,15,.285,1,15,.34,1,15,.296,.962,15,.333,.962,15,.309,.92,15,.346,.92,15,.32,.878,15,.36,.878,15,.333,.829,15,.375,.829,15,.391,.867,15,.4,.878,15,.391,.78,15,.371,.916,15
];

// ---------- FASMEE aged, CHNO ----------
const agedChnoGray = [
.23,1.768,.249,1.748,.272,1.725,.299,1.7,.285,1.641,.333,1.667,.307,1.615,.333,1.585,.374,1.623,.428,1.569,.299,1.557,.333,1.533,.249,1.552,.2,1.533,.2,1.5,.215,1.5,.249,1.5,.266,1.465,.23,1.458,.249,1.427,.249,1.373,.357,1.5,.385,1.462,.4,1.5,.444,1.442,.4,1.4,.333,1.335,.307,1.389,.266,1.4,.2,1.4,.214,1.355,.235,1.35,.177,1.355,.134,1.335,.153,1.309,.187,1.312,.2,1.297,.231,1.309,.213,1.266,.249,1.312,.249,1.251,.267,1.266,.285,1.285,.299,1.308,.312,1.312,.286,1.355,.376,1.312,.402,1.297,.463,1.308,.428,1.354,.454,1.363,.5,1.297,.571,1.285,.601,1.396,.555,1.223,.546,1.182,.444,1.223,.5,1.124,.5,1.083,.625,1.124,.601,1.098,.714,1,.833,.83,.624,.624,.555,.777,.5,.89,
.134,1,.153,1,.183,1,.2,1,.215,1,.231,1,.249,1,.333,1,.383,1,.167,1,.24,1,.22,1,
.117,1.118,.124,1.063,.141,1.072,.167,1.087,.167,1.052,.188,1.063,.222,1.055,.236,1.09,.249,1.067,.249,1.106,.249,1.182,.267,1.133,.286,1.098,.286,1.213,.154,1.155,.183,1.182,.209,1.205,.222,1.228,.235,1.236,
.143,.93,.167,.945,.167,.914,.19,.93,.199,.868,.177,.884,.154,.845,.183,.815,.231,.842,.222,.777,.272,.82,.286,.784,.249,.922,.249,.876,.249,.815,.309,.845,.299,.907,.283,.937,.333,.907,.333,.868,.333,.784,.333,.738,.167,.746,.2,.746,.249,.746,.2,.7,.23,.689,.183,.634,.214,.643,.249,.624,.249,.58,.286,.711,.299,.7,.307,.689,.266,.735,.358,.784,.385,.692,.4,.7,.376,.624,.418,.746,.444,.777,.373,.876,
.333,1.213,.373,1.213,.354,1.236,.354,1.167,.333,1.128,.283,1.152,.428,1.014,.333,1.07,
.16,1.22,.19,1.13,.21,1.11,.23,1.15,.26,1.05,.28,1.03,.31,1.15,.2,1.06,.3,.97,.35,.92,.36,.83,.32,.96,.38,.97,.42,.9,.46,.95,.24,.97,.2,.9,.22,.84,.31,1.25,.28,1.42,.31,1.42,.34,1.38,.37,1.42,.43,1.18,.47,1.17
];
const agedChnoGrayOverlap = [.285,1.641,.333,1.667,.333,1.585,.249,1.427,.249,1.373,.249,1.251,.285,1.285,.5,1.297,.333,1,.2,1,.183,1,.249,1.067,.249,1.182,.183,.815,.249,.922,.249,.876,.333,.907,.333,.738,.249,.746];
const agedChnoGrayLarge = [.572,1,20,.5,.83,32,.624,.876,8,.666,.83,10,.5,1.124,6,.444,1.223,3,.444,1,8,.424,1,6,.333,1.213,3];
const agedChnoColored = [
.214,1.787,4,.266,1.667,4,.357,1.641,4,.385,1.615,4,.416,1.583,4,.363,1.545,4,.5,1.5,4,.554,1.442,4,.624,1.373,4,.714,1.282,4,.666,1.168,4,.6,1,4,.799,1,4,.333,1.442,4,
.313,1.562,5,.428,1.5,5,.462,1.461,5,.416,1.418,5,.5,1.418,5,.537,1.461,5,.583,1.418,5,.546,1.361,5,.637,1.363,5,.601,1.297,5,.698,1.297,5,.666,1.222,5,.776,1.222,5,.749,1.124,5,.873,1.124,5,
.266,1.533,6,.285,1.5,6,.307,1.462,6,.333,1.418,6,.466,1.398,6,.363,1.363,6,.5,1.355,6,.538,1.309,6,.5,1.251,6,.583,1.251,6,.637,1.182,6,.554,1.11,6,.698,1.098,6,.666,1,6,.624,1,6,.5,1,6,.571,.858,6,.749,.873,6,.857,.715,6,.167,1.251,6,
.223,.887,7,.272,.907,7,.376,.747,7,.412,1.352,7,.471,1.363,7,.437,1.312,7,.357,1.282,7,.385,1.228,7,.466,1.266,7,.533,1.266,7,.571,1.216,7,.412,1.236,7,.416,1.17,7,.454,1.09,7,.585,1.083,7,.6,.899,7,.699,.899,7,.625,.747,7,.666,.777,7,.615,1.152,7,.666,1.084,7,.429,.57,7,.5,1.213,7,.306,1.078,7,
.263,1.315,8,.333,1.274,8,.389,1.274,8,.471,1.237,8,.5,1.182,8,.187,1.251,8,.176,1.236,8,.2,1.202,8,.133,1.199,8,.143,1.141,8,.214,1.141,8,.153,1.077,8,.167,1,8,.249,1,8,.182,.907,8,.2,.798,8,.333,.666,8,.333,.555,8,.444,.555,8,.554,.555,8,.5,.7,8,.546,.815,8,.534,1.132,8,.571,1.07,8,.585,.914,8,.637,.815,8,.666,.914,8,.6,.7,8,
.316,1.211,9,.333,1.168,9,.42,1.211,9,.444,1.17,9,.354,1.113,9,.412,1.113,9,.471,1.116,9,.375,1.058,9,.5,1.064,9,.437,1.067,9,.399,1,9,.466,1,9,.534,1,9,.571,.928,9,.386,.919,9,.428,.927,9,.416,.83,9,.463,.841,9,.538,.845,9,.5,.746,9,.455,.726,9,.455,.634,9,.365,.631,9,.5,.597,9,
.299,1.15,10,.316,1.106,10,.333,1.06,10,.349,1.15,10,.381,1.187,10,.399,1.152,10,.367,1.098,10,.388,1.052,10,.354,1,10,.413,1,10,.376,.934,10,.4,.867,10,.429,.784,10,.462,.689,10,.466,.868,10,.534,.868,10,.5,.784,10,.333,.58,10,.416,.582,10,.436,1.06,10,
.363,1.135,11,.408,1.135,11,.381,1.095,11,.428,1.095,11,.4,1.049,11,.449,1.049,11,.299,1.049,11,.316,1,11,.421,1,11,.474,1,11,.333,.943,11,.352,.882,11,.375,.813,11,.4,.734,11,.444,.942,11,.5,.94,11,.5,.815,11,.428,.643,11,.285,.643,11,.357,.643,11,.385,.54,11
];
const agedChnoColoredLarge = [.714,.858,6,10,.714,.715,6,8,.833,.662,6,14,.571,.715,6,3,.571,.858,6,1,.749,.873,6,1,.333,.58,10,1];

// ---------- drawing ----------
const NS = "http://www.w3.org/2000/svg";
const X_UNIT = 518.3;
const rows = [
  {key:"a", stripTop:175.3, top:231, bottom:837.7, yZero:810.3, yUnit:220.6},
  {key:"b", stripTop:1043,  top:1099, bottom:1697.3, yZero:1670.7, yUnit:217.8}
];
const cols = [
  {key:"cho",  name:"CHO",  left:139.7,  right:993,    xZero:177.3},
  {key:"chno", name:"CHNO", left:1012.3, right:1865.6, xZero:1050}
];
const panelData = {
  "a-cho":  {gray:freshChoGray,  overlap:freshChoGrayOverlap,  large:freshChoGrayLarge,  colored:freshChoColored,  coloredLarge:[]},
  "a-chno": {gray:freshChnoGray, overlap:freshChnoGrayOverlap, large:freshChnoGrayLarge, colored:freshChnoColored, coloredLarge:[]},
  "b-cho":  {gray:agedChoGray,   overlap:agedChoGrayOverlap,   large:agedChoGrayLarge,   colored:agedChoColored,   coloredLarge:[]},
  "b-chno": {gray:agedChnoGray,  overlap:agedChnoGrayOverlap,  large:agedChnoGrayLarge,  colored:agedChnoColored,  coloredLarge:agedChnoColoredLarge}
};

function make(tag, attrs, parent, txt){
  const el = document.createElementNS(NS, tag);
  for (const k in attrs) el.setAttribute(k, attrs[k]);
  if (txt !== undefined) el.textContent = txt;
  if (parent) parent.appendChild(el);
  return el;
}
function radiusFromRA(ra){ return 5 + 17 * Math.sqrt(ra / 100); }
function colorFromDBE(d){
  const i = dbeLevels.indexOf(Math.round(d));
  return dbeColors[i < 0 ? 0 : i];
}

const root = document.getElementById("panels");
const defs = make("defs", {}, root);

rows.forEach(function(row){
  cols.forEach(function(col){
    const id = row.key + "-" + col.key;
    const data = panelData[id];
    const xScale = function(v){ return col.xZero + v * X_UNIT; };
    const yScale = function(v){ return row.yZero - v * row.yUnit; };

    const g = make("g", {}, root);
    
    

    const strip = make("rect", {x:col.left, y:row.stripTop, width:col.right-col.left, height:row.top-row.stripTop, fill:"#d9d9d9", stroke:"#333", "stroke-width":2}, g);
    
    
    const stripText = make("text", {x:(col.left+col.right)/2-1.3, y:row.stripTop+39, "font-size":29, "text-anchor":"middle", fill:"#1a1a1a"}, g, col.name);
    
    

    const clip = make("clipPath", {id:"clip-"+id}, defs);
    make("rect", {x:col.left, y:row.top, width:col.right-col.left, height:row.bottom-row.top}, clip);

    const plot = make("g", {"clip-path":"url(#clip-"+id+")"}, g);
    
    

    xMinorTicks.forEach(function(v){
      const l = make("line", {x1:xScale(v), x2:xScale(v), y1:row.top, y2:row.bottom, stroke:"#ebebeb", "stroke-width":1.3}, plot);
      
      
    });
    yMinorTicks.forEach(function(v){
      const l = make("line", {x1:col.left, x2:col.right, y1:yScale(v), y2:yScale(v), stroke:"#ebebeb", "stroke-width":1.3}, plot);
      
      
    });
    xMajorTicks.forEach(function(v){
      const l = make("line", {x1:xScale(v), x2:xScale(v), y1:row.top, y2:row.bottom, stroke:"#ebebeb", "stroke-width":2.5}, plot);
      
      
    });
    yMajorTicks.forEach(function(v){
      const l = make("line", {x1:col.left, x2:col.right, y1:yScale(v), y2:yScale(v), stroke:"#ebebeb", "stroke-width":2.5}, plot);
      
      
    });

    const dashStyle = {stroke:"#cfcfcf", "stroke-width":1.1, "stroke-dasharray":"5 4"};
    referenceX.forEach(function(v){
      const l = make("line", Object.assign({x1:xScale(v), x2:xScale(v), y1:row.top, y2:row.bottom}, dashStyle), plot);
      
      
    });
    referenceY.forEach(function(v){
      const l = make("line", Object.assign({x1:col.left, x2:col.right, y1:yScale(v), y2:yScale(v)}, dashStyle), plot);
      
      
    });
    referenceSlope.forEach(function(m){
      const l = make("line", Object.assign({x1:xScale(-0.2), y1:yScale(-0.2*m), x2:xScale(1.6), y2:yScale(1.6*m)}, dashStyle), plot);
      
      
    });

    const addGray = function(oc, hc, ra){
      const c = make("circle", {cx:xScale(oc), cy:yScale(hc), r:radiusFromRA(ra), fill:"rgba(130,130,130,0.13)", stroke:"rgba(100,100,100,0.17)", "stroke-width":1}, plot);
      
      
    };
    for (let i = 0; i + 1 < data.gray.length; i += 2) addGray(data.gray[i], data.gray[i+1], 0.02);
    for (let i = 0; i + 1 < data.overlap.length; i += 2) addGray(data.overlap[i], data.overlap[i+1], 0.02);
    for (let i = 0; i + 2 < data.large.length; i += 3) addGray(data.large[i], data.large[i+1], data.large[i+2]);

    const addColored = function(oc, hc, dbe, ra){
      const c = make("circle", {cx:xScale(oc), cy:yScale(hc), r:radiusFromRA(ra), fill:colorFromDBE(dbe)}, plot);
      
      
    };
    for (let i = 0; i + 2 < data.colored.length; i += 3) addColored(data.colored[i], data.colored[i+1], data.colored[i+2], 0.02);
    for (let i = 0; i + 3 < data.coloredLarge.length; i += 4) addColored(data.coloredLarge[i], data.coloredLarge[i+1], data.coloredLarge[i+2], data.coloredLarge[i+3]);

    const border = make("rect", {x:col.left, y:row.top, width:col.right-col.left, height:row.bottom-row.top, fill:"none", stroke:"#333", "stroke-width":2.2}, g);
    
    

    xMajorTicks.forEach(function(v, i){
      const t = make("line", {x1:xScale(v), x2:xScale(v), y1:row.bottom, y2:row.bottom+10, stroke:"#333", "stroke-width":2.2}, g);
      
      
      const lb = make("text", {x:xScale(v), y:row.bottom+48.3, "font-size":41, "text-anchor":"middle", fill:"#4d4d4d"}, g, xTickLabels[i]);
      
      
    });
    if (col.key === "cho") {
      yMajorTicks.forEach(function(v, i){
        const t = make("line", {x1:col.left-10, x2:col.left, y1:yScale(v), y2:yScale(v), stroke:"#333", "stroke-width":2.2}, g);
        
        
        const lb = make("text", {x:121, y:yScale(v)+15, "font-size":41, "text-anchor":"end", fill:"#4d4d4d"}, g, yTickLabels[i]);
        
        
      });
    }
  });
});

// ---------- legends ----------
const legendLayouts = [
  {key:"a", titleX:1935.7, titleY:228.5, barX:1936, barW:56.7, barTop:244, barBottom:528.7, zeroY:521, unit:18, labelX:2007, raTitleX:1952.5, raTitleY:634.5, cx:1963.7, raY:[675,732,788,845], raLabelX:1998},
  {key:"b", titleX:1921.5, titleY:1092.5, barX:1922, barW:56.7, barTop:1108, barBottom:1392.5, zeroY:1385, unit:18, labelX:1993, raTitleX:1946.5, raTitleY:1498.5, cx:1950.3, raY:[1537.5,1595,1652,1708.5], raLabelX:1987}
];
const legendRoot = document.getElementById("legends");
legendLayouts.forEach(function(L){
  const g = make("g", {}, legendRoot);
  
  
  const title = make("text", {x:L.titleX, y:L.titleY, "font-size":41, fill:"#000"}, g, "DBE");
  
  
  const gid = "grad-" + L.key;
  const grad = make("linearGradient", {id:gid, x1:0, y1:L.barBottom, x2:0, y2:L.barTop, gradientUnits:"userSpaceOnUse"}, defs);
  dbeLevels.forEach(function(d, i){
    const off = (L.zeroY - d * L.unit - L.barBottom) / (L.barTop - L.barBottom);
    make("stop", {offset:off, "stop-color":dbeColors[i]}, grad);
  });
  const bar = make("rect", {x:L.barX, y:L.barTop, width:L.barW, height:L.barBottom-L.barTop, fill:"url(#"+gid+")"}, g);
  
  
  dbeLegendTicks.forEach(function(d){
    const y = L.zeroY - d * L.unit;
    const t1 = make("line", {x1:L.barX, x2:L.barX+11, y1:y, y2:y, stroke:"#fff", "stroke-width":1.2}, g);
    
    
    const t2 = make("line", {x1:L.barX+L.barW-11, x2:L.barX+L.barW, y1:y, y2:y, stroke:"#fff", "stroke-width":1.2}, g);
    
    
    const lb = make("text", {x:L.labelX + (d >= 10 ? 1 : 0), y:y+13, "font-size":38, fill:"#000"}, g, String(d));
    
    
  });
  const raTitle = make("text", {x:L.raTitleX, y:L.raTitleY, "font-size":40, fill:"#000"}, g, "RA");
  
  
  raLegendValues.forEach(function(v, i){
    const c = make("circle", {cx:L.cx, cy:L.raY[i], r:radiusFromRA(v), fill:"#000"}, g);
    
    
    const lb = make("text", {x:L.raLabelX + (v === 100 ? 2.5 : 0), y:L.raY[i]+13.5, "font-size":38, fill:"#000"}, g, String(v));
    
    
  });
});
</script>
</body>
</html>
